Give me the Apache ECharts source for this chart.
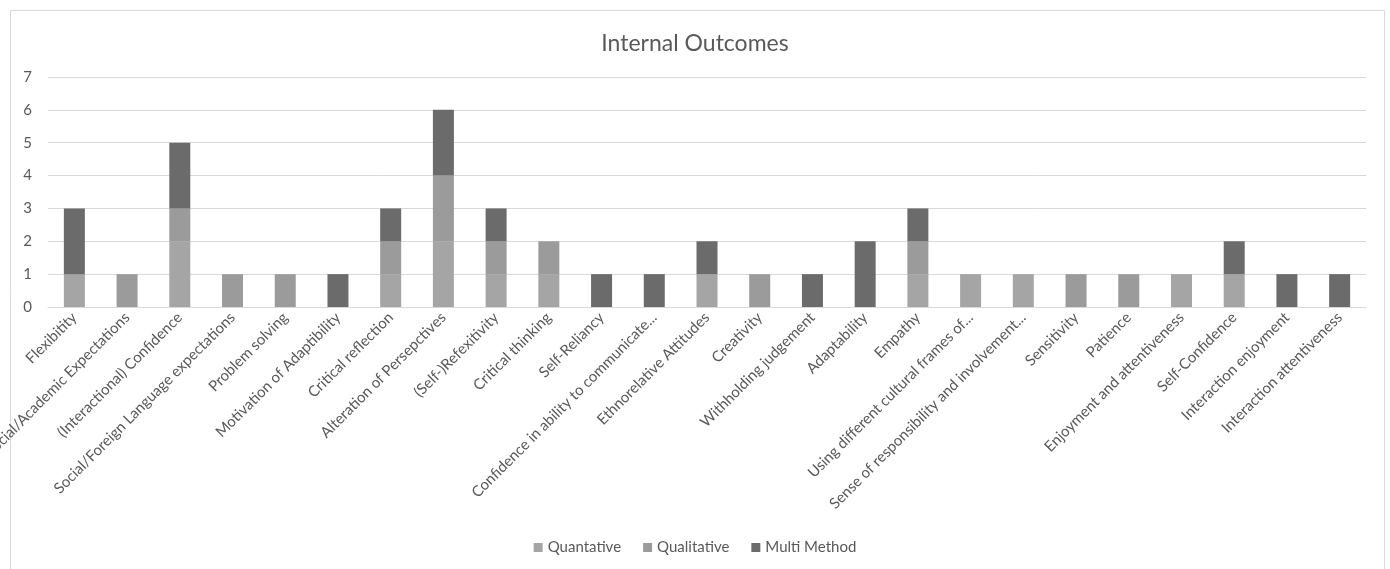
<!DOCTYPE html>
<html>
<head>
<meta charset="utf-8">
<script src="https://cdn.jsdelivr.net/npm/echarts@6/dist/echarts.min.js"></script>
<style>
html,body{margin:0;padding:0;background:#fff;}
#c{width:1390px;height:569px;}
</style>
</head>
<body>
<div id="c"></div>
<script>
const categories = [
  "Flexibitity",
  "Social/Academic Expectations",
  "(Interactional) Confidence",
  "Social/Foreign Language expectations",
  "Problem solving",
  "Motivation of Adaptibility",
  "Critical reflection",
  "Alteration of Persepctives",
  "(Self-)Refexitivity",
  "Critical thinking",
  "Self-Reliancy",
  "Confidence in ability to communicate...",
  "Ethnorelative Attitudes",
  "Creativity",
  "Withholding judgement",
  "Adaptability",
  "Empathy",
  "Using different cultural frames of...",
  "Sense of responsibility and involvement...",
  "Sensitivity",
  "Patience",
  "Enjoyment and attentiveness",
  "Self-Confidence",
  "Interaction enjoyment",
  "Interaction attentiveness"
];
const quantative  = [1,0,2,0,0,0,1,2,1,1,0,0,1,0,0,0,1,1,1,0,0,1,1,0,0];
const qualitative = [0,1,1,1,1,0,1,2,1,1,0,0,0,1,0,0,1,0,0,1,1,0,0,0,0];
const multiMethod = [2,0,2,0,0,1,1,2,1,0,1,1,1,0,1,2,1,0,0,0,0,0,1,1,1];
const yTicks = [0,1,2,3,4,5,6,7];

const FONT = 'Lato, "Open Sans", sans-serif';
const TXT = '#595959';
const chart = echarts.init(document.getElementById('c'), null, {renderer:'canvas'});
function ser(name, data, color){
  return {name, type:'bar', stack:'s', data, barWidth:21,
    itemStyle:{color}, emphasis:{disabled:true}};
}
chart.setOption({
  animation:false,
  backgroundColor:'#fff',
  graphic:[{type:'rect', shape:{x:10.5,y:10.5,width:1374,height:570},
    style:{fill:'none', stroke:'#d9d9d9', lineWidth:1}, silent:true, z:-1}],
  title:{text:'Internal Outcomes', left:'center', top:27,
    textStyle:{fontFamily:FONT, fontSize:23, fontWeight:'normal', color:TXT}},
  legend:{bottom:9, left:'center', itemWidth:9, itemHeight:9, itemGap:22,
    icon:'rect', textStyle:{fontFamily:FONT, fontSize:15, color:TXT},
    data:['Quantative','Qualitative','Multi Method']},
  grid:{left:48, right:24, top:77, bottom:262, containLabel:false, outerBoundsMode:'none'},
  xAxis:{type:'category', data:categories,
    axisLine:{lineStyle:{color:'#d9d9d9'}}, axisTick:{show:false},
    axisLabel:{rotate:45, interval:0, fontFamily:FONT, fontSize:15, color:TXT, margin:8}},
  yAxis:{type:'value', min:yTicks[0], max:yTicks[yTicks.length-1], interval:1,
    axisLine:{show:false}, axisTick:{show:false},
    axisLabel:{fontFamily:FONT, fontSize:15, color:TXT, margin:16},
    splitLine:{lineStyle:{color:'#d9d9d9'}}},
  series:[
    ser('Quantative', quantative, '#a5a5a5'),
    ser('Qualitative', qualitative, '#9b9b9b'),
    ser('Multi Method', multiMethod, '#6b6b6b')
  ]
});
</script>
</body>
</html>
